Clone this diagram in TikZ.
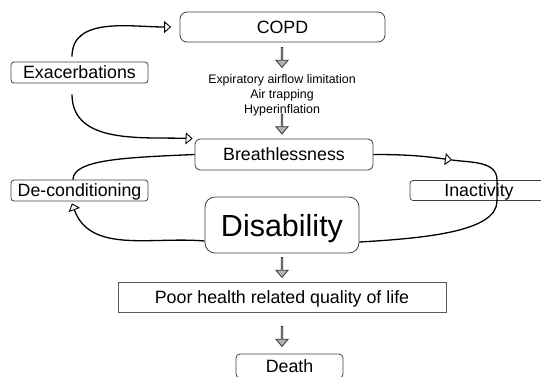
\documentclass[tikz,border=0pt]{standalone}
\usepackage{fontspec}
\setmainfont{Liberation Sans}
\usepackage{tikz}
\usetikzlibrary{arrows.meta, shapes.arrows}

\tikzset{
  box/.style={draw=black!75, line width=0.8pt, rounded corners=4pt, inner sep=0pt,
    text height=12.7pt, text depth=0pt, font=\fontsize{17.8pt}{20pt}\selectfont},
  blockarrow/.style={single arrow, draw=black!80, fill=black!30, line width=0.8pt,
    rotate=-90, minimum height=20pt, minimum width=12pt, inner sep=0pt,
    single arrow head extend=3pt, single arrow head indent=0pt, single arrow tip angle=80},
  flow/.style={line width=1.3pt, -{Triangle[open, length=7pt, width=12pt, line width=0.9pt]}},
  loopline/.style={line width=1.3pt},
}

\begin{document}
\begin{tikzpicture}[x=1pt, y=-1pt]
        \useasboundingbox (0,0) rectangle (541,376);
        \node[box, rounded corners=7pt, minimum width=205pt, minimum height=30pt] (copd) at (282.5,27) {COPD};
        \node[box, rounded corners=3pt, minimum width=137pt, minimum height=21pt] (exac) at (79.5,72.5) {Exacerbations};
        \node[align=center, inner sep=0pt, font=\fontsize{12.4pt}{15pt}\selectfont] (mech) at (282,95)
          {Expiratory airflow limitation\\Air trapping\\Hyperinflation};
        \node[box, rounded corners=5pt, minimum width=178pt, minimum height=31pt] (breath) at (284,154.5) {Breathlessness};
        \node[box, rounded corners=3pt, minimum width=137pt, minimum height=21pt] (decond) at (79.5,190.5) {De-conditioning};
        \node[box, rounded corners=3pt, minimum width=138pt, minimum height=20pt] (inact) at (479,190.5) {Inactivity};
        \node[box, rounded corners=10pt, minimum width=154pt, minimum height=56pt, text height=22pt,
          font=\fontsize{30.5pt}{34pt}\selectfont] (disab) at (282,225) {Disability};
        \node[box, rounded corners=0pt, draw=black!65, minimum width=328pt, minimum height=30pt] (qol) at (282,297)
          {Poor health related quality of life};
        \node[box, minimum width=107pt, minimum height=24pt] (death) at (289.5,366) {Death};

        \node[blockarrow] (ar1) at (282,57) {};
        \node[blockarrow] (ar2) at (282,123.5) {};
        \node[blockarrow] (ar3) at (282,267) {};
        \node[blockarrow] (ar4) at (282,336) {};

        \coordinate (tipR) at (452,160);

        \draw[flow] ([xshift=-7.5pt, yshift=5pt]exac.north) to[out=90, in=180] ([xshift=-8.5pt]copd.west);
        \draw[flow] ([xshift=-7.5pt, yshift=-11pt]exac.south) to[out=-90, in=178] ([xshift=-2pt]breath.north west);
        \draw[loopline] (breath.west) .. controls +(-70,3) and +(0,-20) .. ([xshift=-6.5pt]decond.north);
        \draw[flow] (breath.east) to[out=0, in=172] (tipR);
        \draw[loopline] (tipR) to[out=-8, in=90] ([xshift=18pt]inact.north) -- ([xshift=18pt]inact.south)
          .. controls +(0,30) and +(70,-4) .. ([yshift=-17pt]disab.east);
        \draw[flow] ([yshift=-16pt]disab.west) to[out=175, in=-70] ([xshift=-7.5pt, yshift=-2pt]decond.south);
\end{tikzpicture}
\end{document}
